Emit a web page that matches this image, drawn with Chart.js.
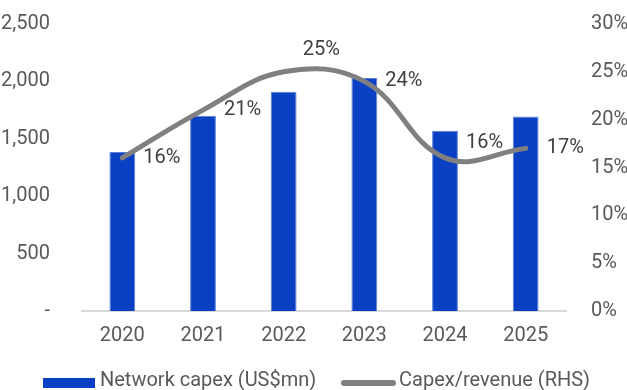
<!DOCTYPE html>
<html>
<head>
<meta charset="utf-8">
<script src="https://cdn.jsdelivr.net/npm/chart.js@4.4.1/dist/chart.umd.min.js"></script>
<style>
    html, body { margin: 0; padding: 0; background: #fff; }
    #wrap { width: 627px; height: 390px; }
</style>
</head>
<body>
<div id="wrap"><canvas id="capexChart" width="627" height="390"></canvas></div>
<script>
const years = ['2020', '2021', '2022', '2023', '2024', '2025'];
const networkCapex = [1385, 1700, 1910, 2030, 1570, 1695];
const capexRevenue = [16, 21, 25, 24, 16, 17];
const leftTicks = [0, 500, 1000, 1500, 2000, 2500];
const rightTicks = [0, 5, 10, 15, 20, 25, 30];

const FONT = 'Roboto, "Noto Sans", sans-serif';
const BLUE = '#0a41c4';
const GREY = '#808080';

// label offset from its point, in px
const labelShift = [[21, 0], [21, 0], [19, -22], [21, 0], [21, -15], [21, 0]];

const pctLabels = {
    id: 'pctLabels',
    afterDatasetsDraw(chart) {
        const meta = chart.getDatasetMeta(1);
        const ctx = chart.ctx;
        ctx.save();
        ctx.font = '20px ' + FONT;
        ctx.fillStyle = '#404040';
        ctx.textBaseline = 'middle';
        ctx.textAlign = 'left';
        meta.data.forEach(function (pt, i) {
            ctx.fillText(capexRevenue[i] + '%', pt.x + labelShift[i][0], pt.y + labelShift[i][1]);
        });
        ctx.restore();
    }
};

// legend along the bottom edge
const bottomLegend = {
    id: 'bottomLegend',
    afterDraw(chart) {
        const ctx = chart.ctx;
        const names = chart.data.datasets.map(ds => ds.label);
        ctx.save();
        ctx.fillStyle = BLUE;
        ctx.fillRect(43, 378, 52, 10);
        ctx.strokeStyle = GREY;
        ctx.lineWidth = 6;
        ctx.lineCap = 'round';
        ctx.beginPath();
        ctx.moveTo(344, 383);
        ctx.lineTo(393, 383);
        ctx.stroke();
        ctx.font = '20px ' + FONT;
        ctx.fillStyle = '#595959';
        ctx.textBaseline = 'middle';
        ctx.fillText(names[0], 100, 381);
        ctx.fillText(names[1], 399, 381);
        ctx.restore();
    }
};

const tickFont = { family: FONT, size: 20 };

// fixed axis width, and no extra room reserved above/below for tick text
function fixSide(width) {
    return function (axis) {
        axis.width = width;
        axis.paddingTop = 0;
        axis.paddingBottom = 0;
    };
}

let chart = new Chart(document.getElementById('capexChart').getContext('2d'), {
    data: {
        labels: years,
        datasets: [{
            type: 'bar',
            label: 'Network capex (US$mn)',
            data: networkCapex,
            backgroundColor: BLUE,
            borderColor: '#5a7fd8',
            borderWidth: { left: 1, right: 1, top: 1, bottom: 0 },
            barPercentage: 0.32,
            categoryPercentage: 1,
            yAxisID: 'y',
            order: 2
        }, {
            type: 'line',
            label: 'Capex/revenue (RHS)',
            data: capexRevenue,
            borderColor: GREY,
            backgroundColor: GREY,
            borderWidth: 5,
            borderCapStyle: 'round',
            tension: 0.4,
            pointRadius: 0,
            yAxisID: 'y1',
            order: 1
        }]
    },
    options: {
        responsive: false,
        animation: false,
        layout: { padding: { top: 24, left: 0, right: 0, bottom: 0 } },
        plugins: {
            tooltip: { enabled: false },
            legend: { display: false }
        },
        scales: {
            x: {
                grid: { display: false },
                border: { color: '#d9d9d9', width: 2 },
                ticks: { font: tickFont, color: '#595959', padding: 5 },
                afterFit(axis) { axis.height = 79; }
            },
            y: {
                position: 'left',
                min: 0,
                max: 2500,
                afterBuildTicks(axis) { axis.ticks = leftTicks.map(v => ({ value: v })); },
                afterFit: fixSide(82),
                grid: { display: false },
                border: { display: false },
                ticks: {
                    font: tickFont,
                    color: '#595959',
                    padding: 24,
                    callback: v => v === 0 ? '-' : v.toLocaleString('en-US')
                }
            },
            y1: {
                position: 'right',
                min: 0,
                max: 30,
                afterBuildTicks(axis) { axis.ticks = rightTicks.map(v => ({ value: v })); },
                afterFit: fixSide(61),
                grid: { display: false },
                border: { display: false },
                ticks: {
                    font: tickFont,
                    color: '#595959',
                    padding: 17,
                    callback: v => v + '%'
                }
            }
        }
    },
    plugins: [pctLabels, bottomLegend]
});
</script>
</body>
</html>
